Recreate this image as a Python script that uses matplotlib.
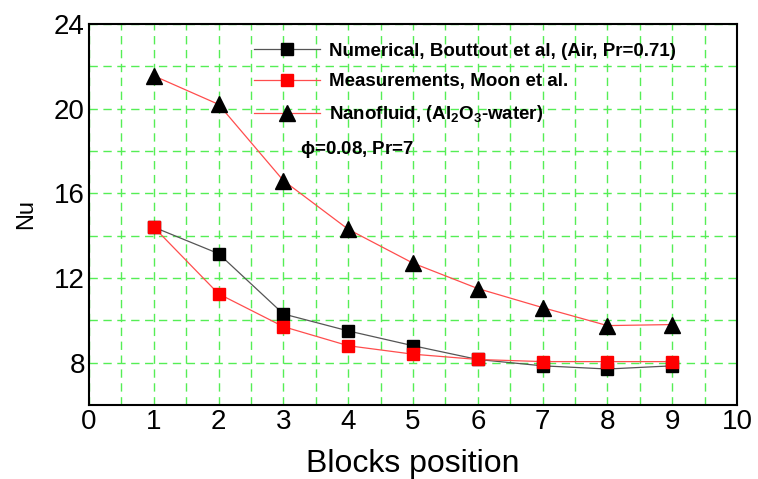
import matplotlib
matplotlib.use("Agg")
import matplotlib.pyplot as plt

plt.rcParams["font.family"] = ["Liberation Sans", "DejaVu Sans"]
plt.rcParams["mathtext.fontset"] = "custom"
plt.rcParams["mathtext.rm"] = "Liberation Sans:bold"
plt.rcParams["mathtext.it"] = "Liberation Sans:bold"
plt.rcParams["mathtext.bf"] = "Liberation Sans:bold"

blocks = [1, 2, 3, 4, 5, 6, 7, 8, 9]
nu_numerical = [14.4, 13.15, 10.3, 9.5, 8.8, 8.15, 7.85, 7.7, 7.85]
nu_measured = [14.4, 11.25, 9.7, 8.8, 8.4, 8.15, 8.05, 8.05, 8.05]
nu_nanofluid = [21.55, 20.2, 16.6, 14.3, 12.7, 11.5, 10.6, 9.75, 9.8]

labels = [
    "Numerical, Bouttout et al, (Air, Pr=0.71)",
    "Measurements, Moon et al.",
    r"Nanofluid, $\left(\mathrm{Al_2O_3}\text{-water}\right)$",
]

fig = plt.figure(figsize=(7.58, 4.79), dpi=100)
ax = fig.add_axes([0.1174, 0.1545, 0.855, 0.7955])

# Nanofluid curve (red line, black triangles)
ax.plot(blocks, nu_nanofluid, color="#ff4d4d", lw=0.9, marker="^", ms=11,
        mfc="black", mec="black", label=labels[2], zorder=3)
# numerical (gray line, black squares)
ax.plot(blocks, nu_numerical, color="#555555", lw=0.9, marker="s", ms=9,
        mfc="black", mec="black", label=labels[0], zorder=3)
# measurements (red line, red squares)
ax.plot(blocks, nu_measured, color="#ff4d4d", lw=0.9, marker="s", ms=9,
        mfc="red", mec="red", label=labels[1], zorder=4)

ax.set_xlim(0, 10)
ax.set_ylim(6, 24)
ax.set_xticks(range(0, 11))
ax.set_yticks([8, 12, 16, 20, 24])
ax.set_xticks([i + 0.5 for i in range(10)], minor=True)
ax.set_yticks([10, 14, 18, 22], minor=True)
ax.grid(True, which="both", color="#55ee55", ls=(0, (6, 4)), lw=1.0)
ax.tick_params(which="both", length=0, labelsize=20, pad=3)
ax.set_axisbelow(True)
for s in ax.spines.values():
    s.set_linewidth(1.5)

ax.set_xlabel("Blocks position", fontsize=23, labelpad=10)
ax.set_ylabel("Nu", fontsize=17, labelpad=12)

h, l = ax.get_legend_handles_labels()
order = [1, 2, 0]
ax.legend([h[i] for i in order], [l[i] for i in order], loc="upper left",
          bbox_to_anchor=(0.229, 0.995), frameon=False, handlelength=3.5,
          handletextpad=0.5, labelspacing=0.7,
          prop={"weight": "bold", "size": 13.5})

ax.text(3.25, 17.85, r"$\phi$=0.08, Pr=7", fontsize=13.5, fontweight="bold")

fig.savefig("out.png", dpi=100)
